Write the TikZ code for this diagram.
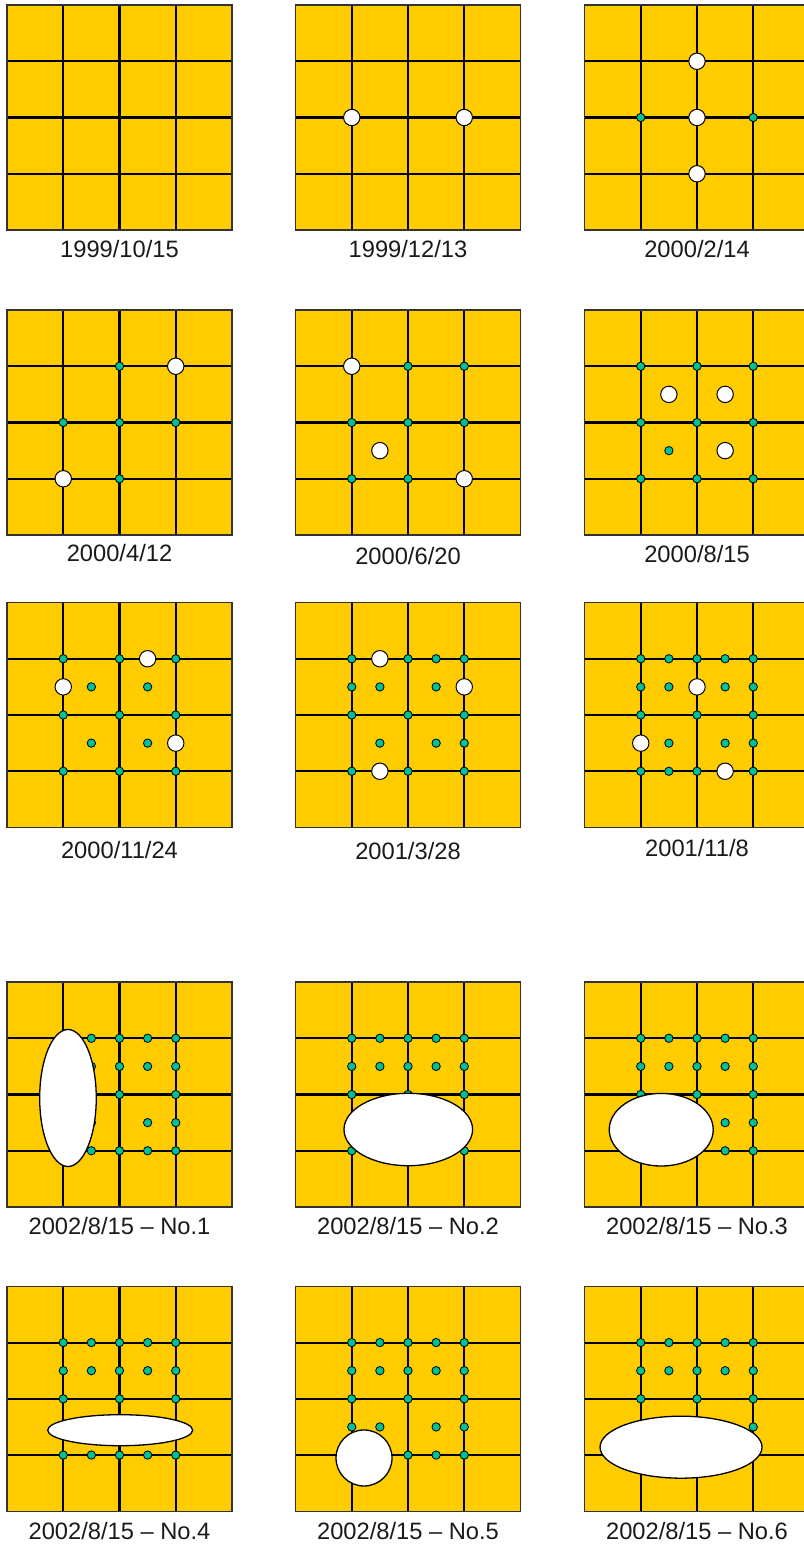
\documentclass[tikz,border=0pt]{standalone}
\usepackage{fontspec}
\setmainfont{Liberation Sans}
\definecolor{panelyellow}{HTML}{FFCC00}
\definecolor{dotteal}{RGB}{0,190,150}
\definecolor{labelgray}{HTML}{1A1A1A}
\tikzset{
  cells/.style 2 args={shift={(#1,#2)},x=56.25pt,y=-56.25pt},
  panelfill/.style={fill=panelyellow},
  gridline/.style={draw=black,line width=2.1pt},
  border/.style={draw=black!80,line width=1.6pt},
  tealdot/.style={fill=dotteal,draw=black,line width=0.8pt},
  whitedot/.style={fill=white,draw=black,line width=1pt},
  hole/.style={fill=white,draw=black,line width=1.3pt},
  lbl/.style={font=\fontsize{23.7pt}{26pt}\selectfont,text=labelgray,anchor=base,inner sep=0pt}
}
\newcommand\drawgrid{%
  \fill[panelfill] (0,0) rectangle (4,4);
  \draw[gridline] (1,0)--(1,4) (2,0)--(2,4) (3,0)--(3,4) (0,1)--(4,1) (0,2)--(4,2) (0,3)--(4,3);
  \draw[border] (0,0) rectangle (4,4);}
\newcommand\tealdots[1]{\foreach \p in {#1} \filldraw[tealdot] \p circle (4.2pt);}
\newcommand\whitedots[1]{\foreach \p in {#1} \filldraw[whitedot] \p circle (8.2pt);}
\begin{document}
\begin{tikzpicture}[x=1pt,y=-1pt]
\useasboundingbox (0,0) rectangle (803,1544);
% Row 1
\begin{scope}[cells={7}{5}]
  \drawgrid
\end{scope}
\node[lbl] (l1) at (119.5,257.5) {1999/10/15};
\begin{scope}[cells={295.5}{5}]
  \drawgrid
  \whitedots{(1,2),(3,2)}
\end{scope}
\node[lbl] (l2) at (408,257.5) {1999/12/13};
\begin{scope}[cells={584.5}{5}]
  \drawgrid
  \tealdots{(1,2),(3,2)}
  \whitedots{(2,1),(2,2),(2,3)}
\end{scope}
\node[lbl] (l3) at (697,257.5) {2000/2/14};
% Row 2
\begin{scope}[cells={7}{310}]
  \drawgrid
  \tealdots{(2,1),(1,2),(2,2),(3,2),(2,3)}
  \whitedots{(3,1),(1,3)}
\end{scope}
\node[lbl] (l4) at (119.5,561) {2000/4/12};
\begin{scope}[cells={295.5}{310}]
  \drawgrid
  \tealdots{(2,1),(3,1),(1,2),(2,2),(3,2),(1,3),(2,3)}
  \whitedots{(1,1),(1.5,2.5),(3,3)}
\end{scope}
\node[lbl] (l5) at (408,564) {2000/6/20};
\begin{scope}[cells={584.5}{310}]
  \drawgrid
  \tealdots{(1,1),(2,1),(3,1),(1,2),(2,2),(3,2),(1,3),(2,3),(3,3),(1.5,2.5)}
  \whitedots{(1.5,1.5),(2.5,1.5),(2.5,2.5)}
\end{scope}
\node[lbl] (l6) at (697,562) {2000/8/15};
% Row 3
\begin{scope}[cells={7}{602.5}]
  \drawgrid
  \tealdots{(1,1),(2,1),(3,1),(1,2),(2,2),(3,2),(1,3),(2,3),(3,3),(1.5,1.5),(2.5,1.5),(1.5,2.5),(2.5,2.5)}
  \whitedots{(2.5,1),(1,1.5),(3,2.5)}
\end{scope}
\node[lbl] (l7) at (119.5,858) {2000/11/24};
\begin{scope}[cells={295.5}{602.5}]
  \drawgrid
  \tealdots{(1,1),(2,1),(2.5,1),(3,1),(1,1.5),(1.5,1.5),(2.5,1.5),(1,2),(2,2),(3,2),(1.5,2.5),(2.5,2.5),(3,2.5),(1,3),(2,3),(3,3)}
  \whitedots{(1.5,1),(3,1.5),(1.5,3)}
\end{scope}
\node[lbl] (l8) at (408,859.5) {2001/3/28};
\begin{scope}[cells={584.5}{602.5}]
  \drawgrid
  \tealdots{(1,1),(1.5,1),(2,1),(2.5,1),(3,1),(1,1.5),(1.5,1.5),(2.5,1.5),(3,1.5),(1,2),(2,2),(3,2),(1.5,2.5),(2.5,2.5),(3,2.5),(1,3),(1.5,3),(2,3),(3,3)}
  \whitedots{(2,1.5),(1,2.5),(2.5,3)}
\end{scope}
\node[lbl] (l9) at (697,856.5) {2001/11/8};
% Row 4
\begin{scope}[cells={7}{982}]
  \drawgrid
  \tealdots{(1.5,1),(2,1),(2.5,1),(3,1),(1.5,1.5),(2,1.5),(2.5,1.5),(3,1.5),(2,2),(3,2),(1.5,2.5),(2.5,2.5),(3,2.5),(1.5,3),(2,3),(2.5,3),(3,3)}
  \filldraw[hole] (1.084,2.062) ellipse [x radius=28.3pt,y radius=68.5pt];
\end{scope}
\node[lbl] (l10) at (119.5,1234.5) {2002/8/15 – No.1};
\begin{scope}[cells={295.5}{982}]
  \drawgrid
  \tealdots{(1,1),(1.5,1),(2,1),(2.5,1),(3,1),(1,1.5),(1.5,1.5),(2,1.5),(2.5,1.5),(3,1.5),(1,2),(2,2),(3,2),(1,3),(3,3)}
  \filldraw[hole] (2.005,2.622) ellipse [x radius=64.3pt,y radius=36.2pt];
\end{scope}
\node[lbl] (l11) at (408,1234.5) {2002/8/15 – No.2};
\begin{scope}[cells={584.5}{982}]
  \drawgrid
  \tealdots{(1,1),(1.5,1),(2,1),(2.5,1),(3,1),(1,1.5),(1.5,1.5),(2,1.5),(2.5,1.5),(3,1.5),(1,2),(2,2),(3,2),(2.5,2.5),(3,2.5),(2.5,3),(3,3)}
  \filldraw[hole] (1.364,2.626) ellipse [x radius=52pt,y radius=36.3pt];
\end{scope}
\node[lbl] (l12) at (697,1234.5) {2002/8/15 – No.3};
% Row 5
\begin{scope}[cells={7}{1286.3}]
  \drawgrid
  \tealdots{(1,1),(1.5,1),(2,1),(2.5,1),(3,1),(1,1.5),(1.5,1.5),(2,1.5),(2.5,1.5),(3,1.5),(1,2),(2,2),(3,2),(1,3),(1.5,3),(2,3),(2.5,3),(3,3)}
  \filldraw[hole] (2.012,2.558) ellipse [x radius=72.5pt,y radius=15.5pt];
\end{scope}
\node[lbl] (l13) at (119.5,1539.5) {2002/8/15 – No.4};
\begin{scope}[cells={295.5}{1286.3}]
  \drawgrid
  \tealdots{(1,1),(1.5,1),(2,1),(2.5,1),(3,1),(1,1.5),(1.5,1.5),(2,1.5),(2.5,1.5),(3,1.5),(1,2),(2,2),(3,2),(1,2.5),(1.5,2.5),(2.5,2.5),(3,2.5),(2,3),(2.5,3),(3,3)}
  \filldraw[hole] (1.218,3.052) circle (28pt);
\end{scope}
\node[lbl] (l14) at (408,1539.5) {2002/8/15 – No.5};
\begin{scope}[cells={584.5}{1286.3}]
  \drawgrid
  \tealdots{(1,1),(1.5,1),(2,1),(2.5,1),(3,1),(1,1.5),(1.5,1.5),(2,1.5),(2.5,1.5),(3,1.5),(1,2),(2,2),(3,2),(3,2.5)}
  \filldraw[hole] (1.716,2.86) ellipse [x radius=81pt,y radius=31pt];
\end{scope}
\node[lbl] (l15) at (697,1539.5) {2002/8/15 – No.6};
\end{tikzpicture}
\end{document}
